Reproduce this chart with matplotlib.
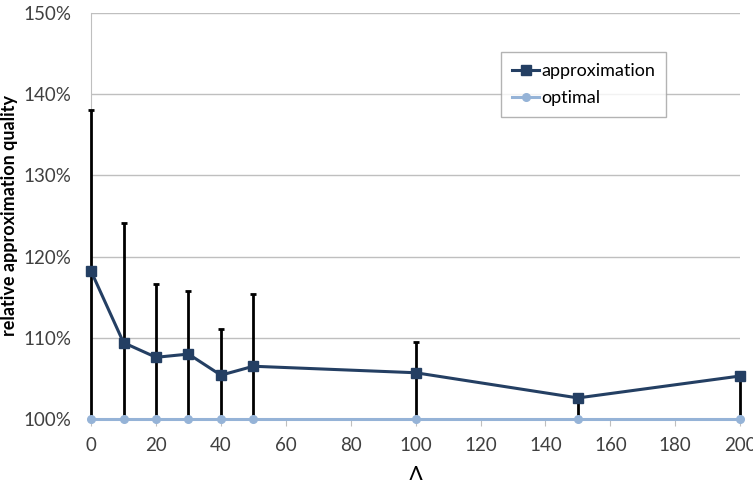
import numpy as np
import matplotlib.pyplot as plt
from matplotlib.ticker import FuncFormatter

lam = [0, 10, 20, 30, 40, 50, 100, 150, 200]
approx = [118.2, 109.4, 107.6, 108.0, 105.4, 106.5, 105.7, 102.6, 105.3]
approx_max = [138.0, 124.1, 116.6, 115.8, 111.1, 115.4, 109.5, 102.6, 105.3]
approx_min = [100, 100, 100, 100, 100, 100, 100, 100, 100]
optimal = [100, 100, 100, 100, 100, 100, 100, 100, 100]

plt.rcParams['font.family'] = ['Lato', 'DejaVu Sans']

fig = plt.figure(figsize=(7.53, 4.8), dpi=100)
ax = fig.add_axes([0.121, 0.127, 0.862, 0.846])

a = np.array(approx)
yerr = [a - np.array(approx_min), np.array(approx_max) - a]

# error bars first, then the lines on top
eb = ax.errorbar(lam, approx, yerr=yerr, fmt='none', ecolor='black', elinewidth=2,
                 capsize=2, capthick=2, zorder=3)
for art in eb.lines[1] + eb.lines[2]:
    art.set_clip_on(False)
ax.plot(lam, optimal, '-o', color='#95b3d7', lw=2.2, ms=5.5, label='optimal', zorder=4,
        clip_on=False)
ax.plot(lam, approx, '-s', color='#243f63', lw=2.2, ms=7, label='approximation',
        zorder=5, clip_on=False)

ax.set_xlim(0, 200)
ax.set_ylim(100, 150)
ax.set_xticks(np.arange(0, 201, 20))
ax.set_yticks(np.arange(100, 151, 10))
ax.yaxis.set_major_formatter(FuncFormatter(lambda v, p: '%d%%' % v))
ax.grid(axis='y', color='#bfbfbf', lw=1)
ax.set_axisbelow(True)

for s in ['top', 'right']:
    ax.spines[s].set_visible(False)
ax.spines['left'].set_color('#bfbfbf')
ax.spines['bottom'].set_color('#bfbfbf')
ax.tick_params(axis='y', length=0, labelsize=13.5, colors='#404040', pad=14)
ax.tick_params(axis='x', length=5, color='#bfbfbf', labelsize=13.5, labelcolor='#404040', pad=8)

ax.set_ylabel('relative approximation quality', fontsize=13, fontweight='bold', labelpad=4)
ax.set_xlabel('Λ', fontsize=15, labelpad=8)

h, l = ax.get_legend_handles_labels()
leg = ax.legend(h[::-1], l[::-1], loc='upper left', bbox_to_anchor=(0.632, 0.903),
                fontsize=13, frameon=True, fancybox=False, edgecolor='#a0a0a0',
                handlelength=1.5, handletextpad=0.1, borderpad=0.6, labelspacing=0.6,
                borderaxespad=0)
leg.get_frame().set_linewidth(1)

fig.savefig('out.png', dpi=100)
